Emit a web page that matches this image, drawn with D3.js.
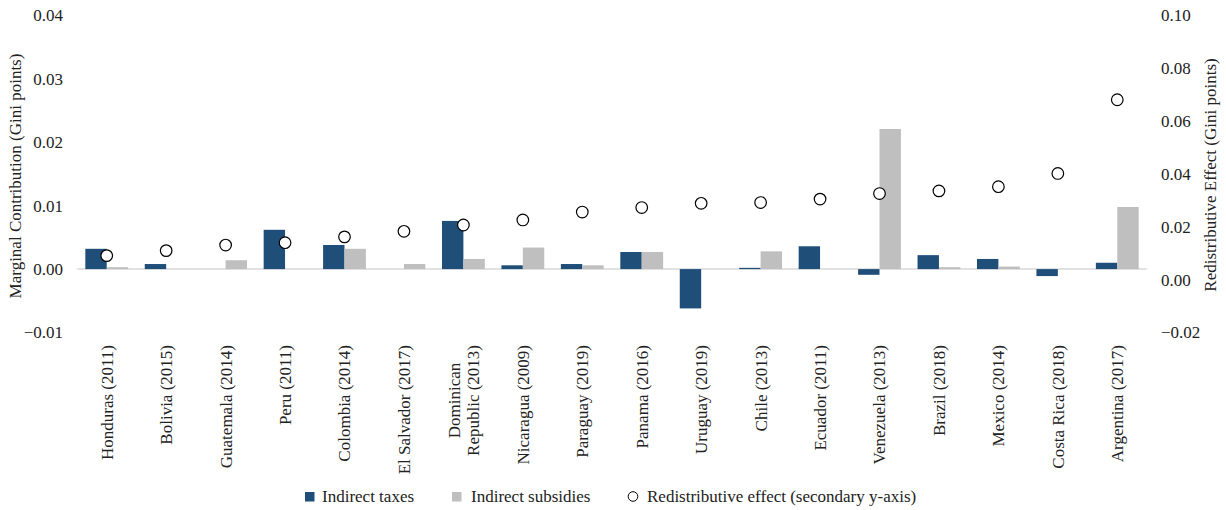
<!DOCTYPE html>
<html>
<head>
<meta charset="utf-8">
<script src="https://cdn.jsdelivr.net/npm/d3@7"></script>
<style>
  body { margin: 0; background: #fff; }
  text { font-family: "Liberation Serif", "Times New Roman", serif; fill: #222; }
</style>
</head>
<body>
<div id="chart"></div>
<script>
// data
var countries = ["Honduras (2011)", "Bolivia (2015)", "Guatemala (2014)", "Peru (2011)", "Colombia (2014)",
    "El Salvador (2017)", "Dominican|Republic (2013)", "Nicaragua (2009)", "Paraguay (2019)", "Panama (2016)",
    "Uruguay (2019)", "Chile (2013)", "Ecuador (2011)", "Venezuela (2013)", "Brazil (2018)", "Mexico (2014)",
    "Costa Rica (2018)", "Argentina (2017)"];
var indirectTaxes = [0.0032, 0.0008, 0, 0.0062, 0.0038, 0, 0.0076, 0.0006, 0.0008, 0.0027,
    -0.0062, 0.0002, 0.0036, -0.0009, 0.0022, 0.0016, -0.0011, 0.0010];
var indirectSubsidies = [0.0003, 0, 0.0014, 0, 0.0032, 0.0008, 0.0016, 0.0034, 0.0006, 0.0027,
    0, 0.0028, 0, 0.0221, 0.0003, 0.0004, 0, 0.0098];
var redistEffect = [0.0091, 0.0110, 0.0131, 0.0140, 0.0162, 0.0183, 0.0207, 0.0226, 0.0256, 0.0273,
    0.0289, 0.0292, 0.0305, 0.0326, 0.0336, 0.0352, 0.0402, 0.0681];
var leftTicks = [-0.01, 0, 0.01, 0.02, 0.03, 0.04];
var rightTicks = [-0.02, 0, 0.02, 0.04, 0.06, 0.08, 0.10];
var seriesNames = ["Indirect taxes", "Indirect subsidies", "Redistributive effect (secondary y-axis)"];

var width = 1226, height = 510;
var plotLeft = 77, plotRight = 1147, plotTop = 15.5, plotBottom = 332.5;
var blue = "#1f4e79", grey = "#bfbfbf";

var svg = d3.select("#chart").append("svg")
    .attr("width", width)
    .attr("height", height);

var x0 = d3.scaleBand()
    .domain(countries)
    .range([plotLeft, plotRight])
    .paddingInner(0.28)
    .paddingOuter(0.14);

var x1 = d3.scaleBand()
    .domain(["tax", "sub"])
    .range([0, x0.bandwidth()]);

var yL = d3.scaleLinear().domain([-0.01, 0.04]).range([plotBottom, plotTop]);
var yR = d3.scaleLinear().domain([-0.02, 0.10]).range([plotBottom, plotTop]);

var fmt = d3.format(".2f");

// left axis labels
svg.append("g").selectAll("text")
    .data(leftTicks)
    .enter().append("text")
    .attr("x", 63)
    .attr("y", function(d) { return yL(d); })
    .attr("dy", "0.35em")
    .attr("text-anchor", "end")
    .style("font-size", "17px")
    .text(function(d) { return fmt(d); });

// right axis labels
svg.append("g").selectAll("text")
    .data(rightTicks)
    .enter().append("text")
    .attr("x", 1161)
    .attr("y", function(d) { return yR(d); })
    .attr("dy", "0.35em")
    .attr("text-anchor", "start")
    .style("font-size", "17px")
    .text(function(d) { return fmt(d); });

// axis titles
svg.append("text")
    .attr("transform", "translate(15," + ((plotTop + plotBottom) / 2 + 2) + ") rotate(-90)")
    .attr("text-anchor", "middle")
    .attr("dy", "0.35em")
    .style("font-size", "17px")
    .text("Marginal Contribution (Gini points)");

svg.append("text")
    .attr("transform", "translate(1210," + ((plotTop + plotBottom) / 2 + 1) + ") rotate(-90)")
    .attr("text-anchor", "middle")
    .attr("dy", "0.35em")
    .style("font-size", "17px")
    .text("Redistributive Effect (Gini points)");

// zero line
svg.append("line")
    .attr("x1", plotLeft).attr("x2", plotRight)
    .attr("y1", yL(0)).attr("y2", yL(0))
    .attr("stroke", "#d9d9d9")
    .attr("stroke-width", 1.5);

var groups = svg.append("g").selectAll("g")
    .data(countries)
    .enter().append("g")
    .attr("transform", function(d) { return "translate(" + x0(d) + ",0)"; });

groups.append("rect")
    .attr("x", x1("tax"))
    .attr("width", x1.bandwidth())
    .attr("y", function(d, i) { return yL(Math.max(0, indirectTaxes[i])); })
    .attr("height", function(d, i) { return Math.abs(yL(indirectTaxes[i]) - yL(0)); })
    .attr("fill", blue);

groups.append("rect")
    .attr("x", x1("sub"))
    .attr("width", x1.bandwidth())
    .attr("y", function(d, i) { return yL(Math.max(0, indirectSubsidies[i])); })
    .attr("height", function(d, i) { return Math.abs(yL(indirectSubsidies[i]) - yL(0)); })
    .attr("fill", grey);

groups.append("circle")
    .attr("cx", x0.bandwidth() / 2)
    .attr("cy", function(d, i) { return yR(redistEffect[i]); })
    .attr("r", 5.8)
    .attr("fill", "#fff")
    .attr("stroke", "#000")
    .attr("stroke-width", 1.2);

// category labels, rotated
var labels = svg.append("g").selectAll("g")
    .data(countries)
    .enter().append("g")
    .attr("transform", function(d) { return "translate(" + (x0(d) + x0.bandwidth() / 2) + ",345) rotate(-90)"; });

labels.each(function(d) {
  var g = d3.select(this);
  var lines = d.split("|");
  if (lines.length === 1) {
    g.append("text")
        .attr("text-anchor", "end")
        .attr("dy", "0.35em")
        .style("font-size", "17px")
        .text(d);
  } else {
    var texts = lines.map(function(l, j) {
      return g.append("text")
          .attr("text-anchor", "middle")
          .attr("y", (j - (lines.length - 1) / 2) * 19)
          .attr("dy", "0.35em")
          .style("font-size", "17px")
          .text(l);
    });
    var maxLen = d3.max(texts, function(t) { return t.node().getComputedTextLength(); });
    texts.forEach(function(t) { t.attr("x", -maxLen / 2); });
  }
});

// legend
var legend = svg.append("g");
legend.append("rect").attr("x", 305).attr("y", 492).attr("width", 9.5).attr("height", 9.5).attr("fill", blue);
legend.append("text").attr("x", 322).attr("y", 501.5).style("font-size", "17px").text(seriesNames[0]);
legend.append("rect").attr("x", 452).attr("y", 492).attr("width", 9.5).attr("height", 9.5).attr("fill", grey);
legend.append("text").attr("x", 471).attr("y", 501.5).style("font-size", "17px").text(seriesNames[1]);
legend.append("circle").attr("cx", 633).attr("cy", 496.5).attr("r", 4.8)
    .attr("fill", "#fff").attr("stroke", "#000").attr("stroke-width", 1);
legend.append("text").attr("x", 647).attr("y", 501.5).style("font-size", "17px").text(seriesNames[2]);
</script>
</body>
</html>
